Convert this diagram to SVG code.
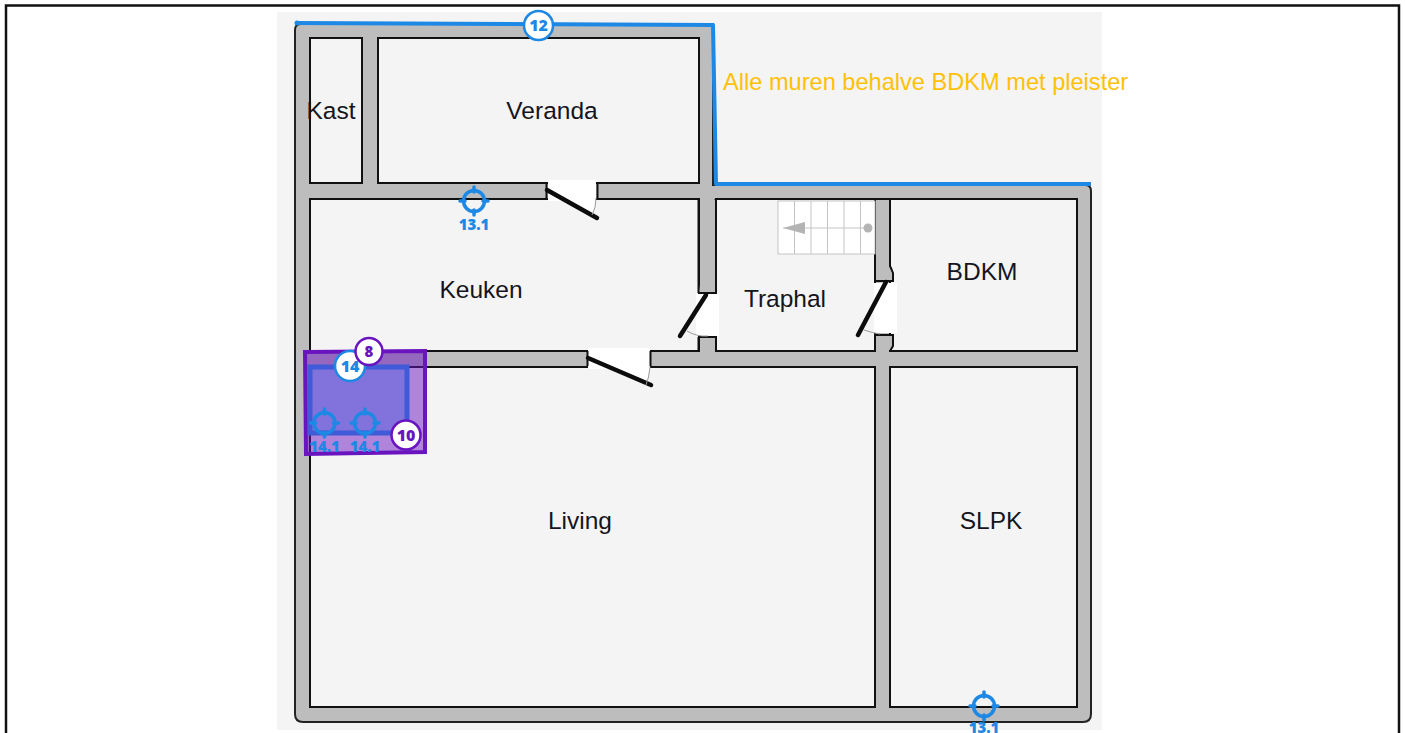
<svg xmlns="http://www.w3.org/2000/svg" width="1405" height="733" viewBox="0 0 1405 733">
<style>
.room{fill:#f4f4f4;stroke:#111;stroke-width:2}
.lbl{font-family:"Liberation Sans",Arial,sans-serif;font-size:24.500px;fill:#151520;text-anchor:middle}
.leaf{stroke:#0c0c0c;stroke-width:4.500;stroke-linecap:round;fill:none}
.arc{stroke:#999;stroke-width:1;fill:none}
.white{fill:#fff}
.blue{stroke:#1e88e5;fill:none}
.tag{font-family:"Open Sans","Noto Sans",sans-serif;font-weight:800;text-anchor:middle}
.tb{fill:#1e88e5}
.tp{fill:#6a14c0}
.tr{stroke:#c4c4c4;stroke-width:1;fill:none}
</style>
<defs>
<g id="target" class="blue">
<circle r="10.500" stroke-width="3.500"/>
<path d="M0-14V-9M0 9V14M-14 0H-9M9 0H14" stroke-width="3.500" stroke-linecap="round"/>
</g>
</defs>
<rect width="1405" height="733" fill="#fff"/>
<rect x="6" y="5.500" width="1393" height="740" fill="none" stroke="#111" stroke-width="2.500"/>
<rect id="sheet" x="277" y="12" width="825" height="718" fill="#f4f4f4"/>
<g id="walls">
<path d="M301 24H713V185H1085Q1091 185 1091 191V714Q1091 722 1083 722H303Q295 722 295 714V30Q295 24 301 24Z" fill="#bdbdbd" stroke="#222" stroke-width="2"/>
</g>
<g id="rooms">
<g id="kast"><rect class="room" x="310" y="38" width="52" height="145"/><text class="lbl" x="331" y="119">Kast</text></g>
<g id="veranda"><rect class="room" x="378" y="38" width="321" height="145"/><text class="lbl" x="552" y="119">Veranda</text></g>
<g id="keuken"><rect class="room" x="310" y="199" width="389" height="152"/><text class="lbl" x="481" y="298">Keuken</text></g>
<g id="traphal"><rect class="room" x="716" y="199" width="159" height="152"/><text class="lbl" x="785" y="307">Traphal</text></g>
<g id="bdkm"><rect class="room" x="890" y="199" width="187" height="152"/><text class="lbl" x="982" y="280">BDKM</text></g>
<g id="living"><rect class="room" x="310" y="367" width="565" height="340"/><text class="lbl" x="580" y="529">Living</text></g>
<g id="slpk"><rect class="room" x="890" y="367" width="187" height="340"/><text class="lbl" x="991" y="529">SLPK</text></g>
</g>
<g id="doors">
<rect class="white" x="548" y="180" width="48" height="21"/>
<path class="white" d="M548 191L592 215Q596 208 596 198V191Z"/>
<path d="M546.500 182.500V198.500M597.500 182.500V198.500" stroke="#111" stroke-width="2"/>
<path class="leaf" d="M547 190L597 218"/><path class="arc" d="M596 198Q596 208 592 215"/>
<rect class="white" x="588" y="348" width="62" height="21"/>
<path class="white" d="M588 358L646 384Q649 378 650 367V358Z"/>
<path d="M587.500 351V366M650.500 351V366" stroke="#111" stroke-width="2"/>
<path class="leaf" d="M588 358L651 385"/><path class="arc" d="M650 367Q649 378 646 385"/>
<rect class="white" x="696" y="294" width="23" height="42"/>
<path d="M698.500 293H715.500V199M698.500 293V199M698.500 337H715.500V351M698.500 337V351" fill="#bdbdbd" stroke="#111" stroke-width="2"/>
<rect x="700" y="200" width="15" height="92" fill="#bdbdbd"/>
<rect x="700" y="338" width="15" height="14" fill="#bdbdbd"/>
<path class="leaf" d="M706 295L680 336"/><path class="arc" d="M687 331Q697 337 708 336"/>
<rect class="white" x="874" y="283" width="23" height="50"/>
<path d="M875 199V281H893V273Q891 268 890 266V199Z" fill="#bdbdbd" stroke="#111" stroke-width="2"/>
<path d="M875 351V335H893V346L890 351Z" fill="#bdbdbd" stroke="#111" stroke-width="2"/>
<path class="leaf" d="M886 282L858 335"/><path class="arc" d="M864 330Q873 333 880 334"/>
<rect x="700" y="350" width="15" height="3" fill="#bdbdbd"/>
<rect x="876" y="350" width="13" height="3" fill="#bdbdbd"/>
</g>
<g id="stairs">
<rect x="778" y="201" width="97" height="53" fill="#fff" stroke="#c4c4c4"/>
<path class="tr" d="M794.500 201V254M811 201V254M827.500 201V254M844 201V254M860.500 201V254M783 228H868"/>
<path d="M783 228L805 222V234Z" fill="#b4b4b4"/>
<circle cx="868" cy="228" r="4.500" fill="#b4b4b4"/>
</g>
<g id="annotations">
<path d="M305 352L425 351V452L306 454Z" fill="#6a14c0" fill-opacity=".5" stroke="#6a14c0" stroke-width="4"/>
<rect x="310" y="367" width="97" height="66" fill="#3b5bdb" fill-opacity=".4" stroke="#3f5bd8" stroke-width="5"/>
<path d="M297 23L713 25L716 184H1091" fill="none" stroke="#1e88e5" stroke-width="4" stroke-linejoin="round"/>
<circle cx="297" cy="23" r="2.500" fill="#1e88e5"/>
<text x="723" y="90" font-family="Liberation Sans,Arial,sans-serif" font-size="23.600" fill="#ffc107">Alle muren behalve BDKM met pleister</text>
<g id="target-1"><use href="#target" x="474" y="201"/><text class="tag tb" x="474" y="230" font-size="15">13.1</text></g>
<g id="target-2"><use href="#target" x="984" y="706"/><text class="tag tb" x="984" y="733" font-size="15">13.1</text></g>
<g id="target-3"><use href="#target" x="324.500" y="423"/><text class="tag tb" x="324.500" y="452" font-size="15">14.1</text></g>
<g id="target-4"><use href="#target" x="365" y="423"/><text class="tag tb" x="365" y="452" font-size="15">14.1</text></g>
<g id="badge-12"><circle cx="538.500" cy="25.500" r="14.500" fill="#fff" stroke="#1e88e5" stroke-width="2.500"/><text class="tag tb" x="538.500" y="31" font-size="16">12</text></g>
<g id="badge-14"><circle cx="350" cy="366" r="15" fill="#fff" stroke="#1e88e5" stroke-width="2.500"/><text class="tag tb" x="350" y="372" font-size="16">14</text></g>
<g id="badge-8"><circle cx="369" cy="351.500" r="13.500" fill="#fff" stroke="#6a14c0" stroke-width="2.500"/><text class="tag tp" x="369" y="357" font-size="15">8</text></g>
<g id="badge-10"><circle cx="406" cy="435" r="14.500" fill="#fff" stroke="#6a14c0" stroke-width="2.500"/><text class="tag tp" x="406" y="441" font-size="16">10</text></g>
</g>
</svg>
